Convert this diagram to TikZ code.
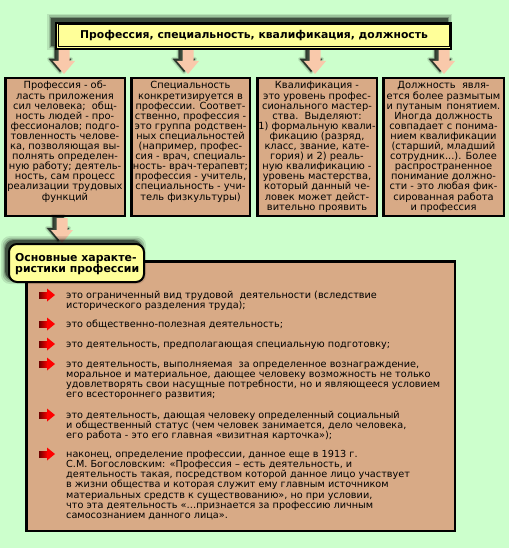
\documentclass[tikz,border=0pt]{standalone}
\usepackage{fontspec}
\setmainfont{DejaVu Sans}
\usetikzlibrary{calc}
\definecolor{bg}{HTML}{CCFFCC}
\definecolor{tanc}{HTML}{D8AA86}
\definecolor{ylw}{HTML}{FFFF99}
\definecolor{peach}{HTML}{F9C9AB}
\definecolor{dred}{HTML}{6E0000}
\newcommand\boxtxt[1]{\parbox[t]{130pt}{\centering #1}}
\newcommand\listtxt[1]{\parbox[t]{420pt}{\raggedright #1}}
\tikzset{
  tanbox/.style={draw=black, line width=2.5pt, fill=tanc, inner sep=0pt, outer sep=0pt},
  boxtext/.style={anchor=base, inner sep=0pt, font=\fontsize{9.85}{10.1}\selectfont},
  listtext/.style={anchor=base west, inner sep=0pt, font=\fontsize{9.7}{10.3}\selectfont},
  blockarrow/.pic={
    \begin{scope}[xshift=-4pt,yshift=2pt]
      \filldraw[black,opacity=0.12,line width=4pt,line join=round] (-5.5,0) -- (5.5,0) -- (5.5,12) -- (11,12) -- (0,25) -- (-11,12) -- (-5.5,12) -- cycle;
      \filldraw[black,opacity=0.25,line width=1.5pt,line join=round] (-5.5,0) -- (5.5,0) -- (5.5,12) -- (11,12) -- (0,25) -- (-11,12) -- (-5.5,12) -- cycle;
      \fill[black,opacity=0.55] (-5.5,0) -- (5.5,0) -- (5.5,12) -- (11,12) -- (0,25) -- (-11,12) -- (-5.5,12) -- cycle;
    \end{scope}
    \fill[peach] (-5.5,0) -- (5.5,0) -- (5.5,12) -- (11,12) -- (0,25) -- (-11,12) -- (-5.5,12) -- cycle;
  },
  redbullet/.pic={
    \shade[left color=dred, right color=red] (-8,-3) rectangle (0.5,3);
    \fill[red] (0,-6.5) -- (8,0) -- (0,6.5) -- cycle;
  }
}
\begin{document}
\begin{tikzpicture}[x=1pt,y=-1pt]
\fill[bg] (0,0) rectangle (509,548);
\useasboundingbox (0,0) rectangle (509,548);

% arrows from title to boxes
\pic at (64,49) {blockarrow};
\pic at (188,49) {blockarrow};
\pic at (315,49) {blockarrow};
\pic at (444,49) {blockarrow};

% title shadow
\foreach \e/\o in {4/0.10,2.5/0.15,1/0.25,0/0.45}
  \fill[black,opacity=\o] (51-\e,18-\e) rectangle (448+\e,46+\e);
\node[draw=black, line width=2pt, fill=ylw, minimum width=395pt, minimum height=26pt, inner sep=0pt] (title) at (253.5,36) {};
\draw[black, line width=1pt] ($(title.north west)+(3,3)$) rectangle ($(title.south east)+(-3,-3)$);
\node[inner sep=0pt, font=\bfseries\fontsize{10.8}{12}\selectfont] (titletext) at (254,36) {Профессия, специальность, квалификация, должность};

% four boxes
\node[tanbox, minimum width=119.5pt, minimum height=137.5pt] (b1) at (65,147) {};
\node[tanbox, minimum width=118.5pt, minimum height=137.5pt] (b2) at (190.5,147) {};
\node[tanbox, minimum width=119.5pt, minimum height=137.5pt] (b3) at (317,147) {};
\node[tanbox, minimum width=120.5pt, minimum height=137.5pt] (b4) at (443.5,147) {};

\node[boxtext] (t1) at (65,89) {\boxtxt{Профессия - об-\\ласть приложения\\сил человека;\ \ общ-\\ность людей - про-\\фессионалов; подго-\\товленность челове-\\ка, позволяющая вы-\\полнять определен-\\ную работу; деятель-\\ность, сам процесс\\реализации трудовых\\функций}};
\node[boxtext] (t2) at (190.5,89) {\boxtxt{Специальность\\конкретизируется в\\профессии. Соответ-\\ственно, профессия -\\это группа родствен-\\ных специальностей\\(например, профес-\\сия - врач, специаль-\\ность- врач-терапевт;\\профессия - учитель,\\специальность - учи-\\тель физкультуры)}};
\node[boxtext] (t3) at (317,89) {\boxtxt{Квалификация -\\это уровень профес-\\сионального мастер-\\ства.\ \ Выделяют:\\1) формальную квали-\\фикацию (разряд,\\класс, звание, кате-\\гория) и 2) реаль-\\ную квалификацию -\\уровень мастерства,\\который данный че-\\ловек может дейст-\\вительно проявить}};
\node[boxtext] (t4) at (443.5,89) {\boxtxt{Должность\ \ явля-\\ется более размытым\\и путаным\ \,понятием.\\Иногда должность\\совпадает с понима-\\нием квалификации\\(старший, младший\\сотрудник...). Более\\распространенное\\понимание должно-\\сти - это любая фик-\\сированная работа\\и профессия}};

% arrow from box 1 down
\pic at (62,218) {blockarrow};

% big box
\node[tanbox, minimum width=428.5pt, minimum height=269.5pt] (big) at (240.5,396) {};

% yellow label with shadow
\foreach \e/\o in {4/0.10,2.5/0.15,1/0.25,0/0.45}
  \fill[black,opacity=\o,rounded corners=9pt] (5-\e,240-\e) rectangle (142+\e,280+\e);
\node[draw=black, line width=2pt, fill=ylw, rounded corners=8pt, minimum width=135pt, minimum height=38pt, inner sep=0pt] (ylab) at (76.5,263) {};
\node[anchor=base west, inner sep=0pt, font=\bfseries\fontsize{10.9}{11.6}\selectfont] (ylabtext) at (15,261) {\parbox[t]{130pt}{\raggedright Основные характе-\\ристики профессии}};

% bullets and items
\pic at (47,295) {redbullet};
\pic at (47,324) {redbullet};
\pic at (47,344) {redbullet};
\pic at (47,364) {redbullet};
\pic at (47,415) {redbullet};
\pic at (47,454) {redbullet};

\node[listtext] (i1) at (66,298) {\listtxt{это ограниченный вид трудовой\ \ деятельности (вследствие\\исторического разделения труда);}};
\node[listtext] (i2) at (66,327) {\listtxt{это общественно-полезная деятельность;}};
\node[listtext] (i3) at (66,347) {\listtxt{это деятельность, предполагающая специальную подготовку;}};
\node[listtext] (i4) at (66,367) {\listtxt{это деятельность, выполняемая\ \ за определенное вознаграждение,\\моральное и материальное, дающее человеку возможность не только\\удовлетворять свои насущные потребности, но и являющееся условием\\его всестороннего развития;}};
\node[listtext] (i5) at (66,418) {\listtxt{это деятельность, дающая человеку определенный социальный\\и общественный статус (чем человек занимается, дело человека,\\его работа - это его главная «визитная карточка»);}};
\node[listtext] (i6) at (66,457) {\listtxt{наконец, определение профессии, данное еще в 1913 г.\\С.М. Богословским: «Профессия – есть деятельность, и\\деятельность такая, посредством которой данное лицо участвует\\в жизни общества и которая служит ему главным источником\\материальных средств к существованию», но при условии,\\что эта деятельность «…признается за профессию личным\\самосознанием данного лица».}};
\end{tikzpicture}
\end{document}
